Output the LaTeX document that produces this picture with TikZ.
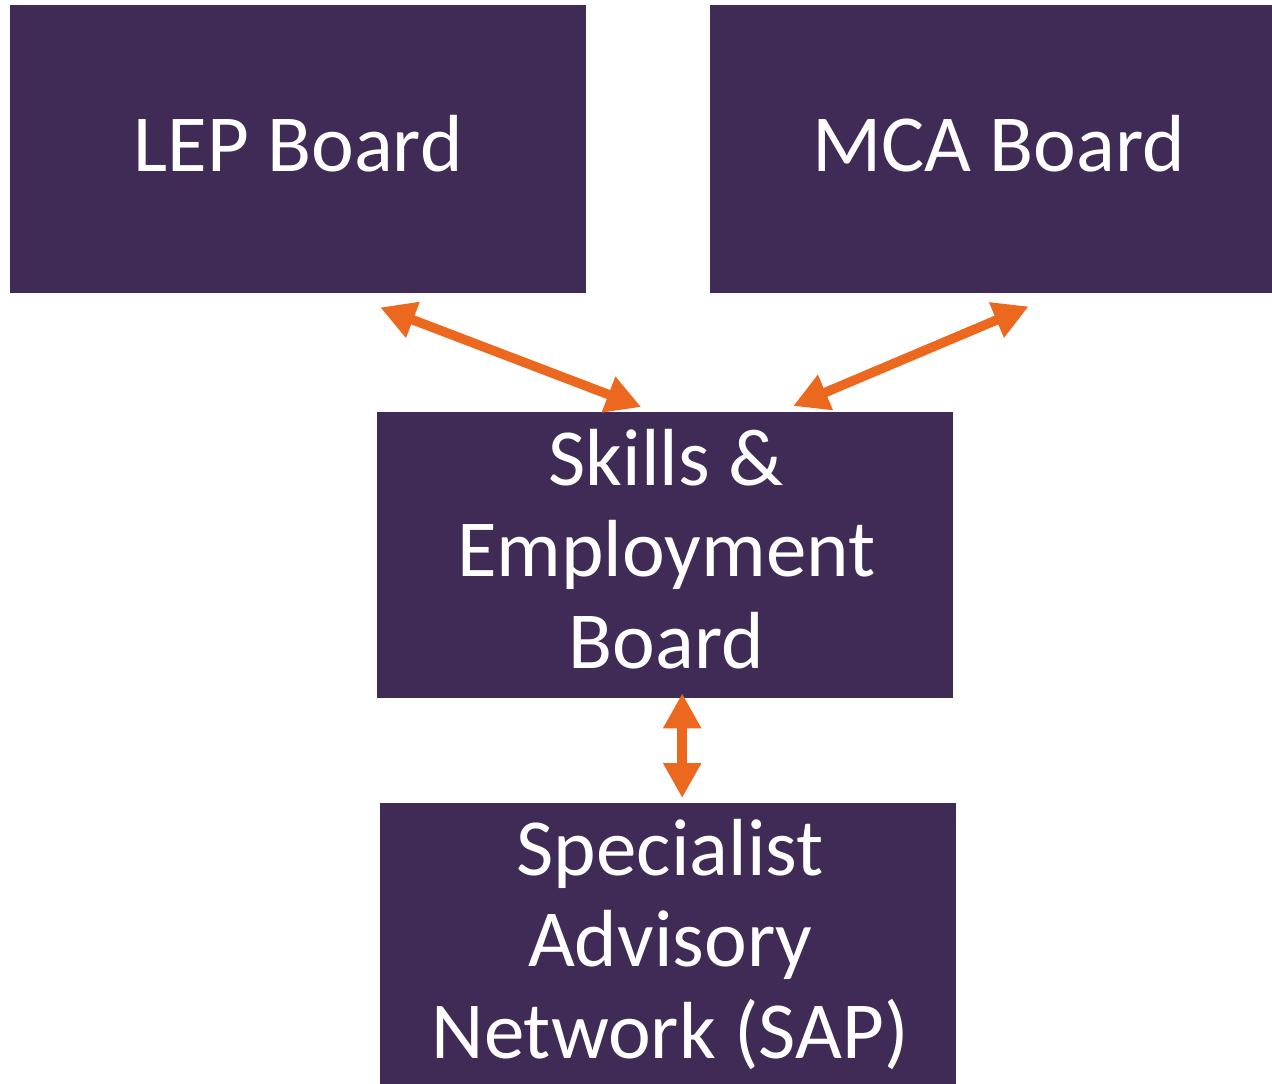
\documentclass[tikz,border=0pt]{standalone}
\usepackage{fontspec}
\setmainfont{Carlito}
\usetikzlibrary{arrows.meta,calc}

\definecolor{boardpurple}{RGB}{64,43,86}
\definecolor{linkorange}{RGB}{236,104,30}

\tikzset{
  board/.style={rectangle, fill=boardpurple, draw=none, inner sep=0pt,
    anchor=north west, minimum height=288pt},
  boardtext/.style={inner sep=0pt, anchor=base, text=white,
    font=\fontsize{81pt}{91.5pt}\selectfont},
  link/.style={draw=linkorange, line width=9.5pt,
    {Triangle[length=35pt,width=36pt]}-{Triangle[length=35pt,width=36pt]},
    fill=linkorange},
}

% stacked lines, baseline on the last line
\newcommand{\boardlines}[1]{\parbox[b]{560pt}{\centering #1}}

\begin{document}
\begin{tikzpicture}[x=1pt,y=-1pt]
  \useasboundingbox (0,0) rectangle (1272,1084);
  \clip (0,0) rectangle (1272,1084);

  % boards
  \node[board, minimum width=576pt] (lep) at (10,5) {};
  \node[board, minimum width=577pt] (mca) at (710,5) {};
  \node[board, minimum width=576pt, minimum height=286pt] (seb) at (377,412) {};
  \node[board, minimum width=576pt, minimum height=300pt] (sap) at (380,803) {};

  % board titles
  \node[boardtext] (lep-title) at ($(lep.north)+(0,166)$) {LEP Board};
  \node[boardtext] (mca-title) at ($(mca.north)+(0,166)$) {MCA Board};
  \node[boardtext] (seb-title) at ($(seb.north)+(1,256)$)
    {\boardlines{Skills \&\\Employment\\Board}};
  \node[boardtext] (sap-title) at ($(sap.north)+(2,255)$)
    {\boardlines{Specialist\\Advisory\\Network (SAP)}};

  % link end points
  \coordinate (lep-end) at ($(lep.south)+(82,14)$);
  \coordinate (seb-left) at ($(seb.north)+(-24,-5)$);
  \coordinate (mca-end) at ($(mca.south)+(30,13)$);
  \coordinate (seb-right) at ($(seb.north)+(128,-6)$);
  \coordinate (seb-bottom) at ($(seb.south)+(17,-5)$);
  \coordinate (sap-top) at ($(sap.north)+(14,-5)$);

  % two-way links
  \draw[link] (lep-end) -- (seb-left);
  \draw[link] (mca-end) -- (seb-right);
  \draw[link] (seb-bottom) -- (sap-top);
\end{tikzpicture}
\end{document}
